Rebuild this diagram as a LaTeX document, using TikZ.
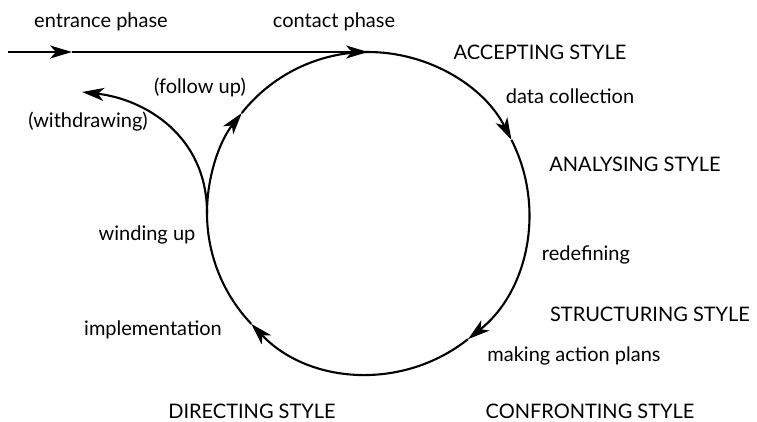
\documentclass[tikz,border=0pt]{standalone}
\usepackage{fontspec}
\setmainfont{Lato}
\usetikzlibrary{calc}
\usetikzlibrary{arrows.meta}

\tikzset{
  phase/.style={inner sep=0pt, font=\fontsize{20}{23}\selectfont},
  path/.style={line width=2.1pt},
  flow/.style={path, -{Stealth[length=22pt,width=13pt,inset=6pt]}},
}

\begin{document}
\begin{tikzpicture}[x=1pt,y=1pt]
\useasboundingbox (0,0) rectangle (757,421);
\coordinate (O) at (368,208);

\coordinate (start) at (8,369);
\coordinate (mid) at (72,369);
\coordinate (top) at ($(O)+(90:161)$);
\coordinate (left) at ($(O)+(180:161)$);
\coordinate (out) at (82,329);

% way in
\draw[flow] (start) -- (mid);
\draw[flow] (mid) -- (top);

% the cycle, clockwise
\draw[flow] (top) arc (90:27:161);
\draw[flow] (O)++(27:161) arc (27:-51.6:161);
\draw[flow] (O)++(-51.6:161) arc (-51.6:-136.5:161);
\draw[path] (O)++(-136.5:161) arc (-136.5:-180:161);
\draw[flow] (left) arc (180:141.6:161);
\draw[path] (O)++(141.6:161) arc (141.6:90:161);

% way out
\draw[flow] (left) .. controls (207,285) and (145,322) .. (out);

% labels
\node[phase] (entrance) at (101,399) {entrance phase};
\node[phase] (contact) at (334,399) {contact phase};
\node[phase] (accepting) at (540,369) {ACCEPTING STYLE};
\node[phase] (data) at (570,325) {data collection};
\node[phase] (analysing) at (635,257) {ANALYSING STYLE};
\node[phase] (redef) at (586,166) {redefining};
\node[phase] (structuring) at (650,107) {STRUCTURING STYLE};
\node[phase] (plans) at (574,65) {making action plans};
\node[phase] (confronting) at (590,10) {CONFRONTING STYLE};
\node[phase] (directing) at (252,10) {DIRECTING STYLE};
\node[phase] (impl) at (153,91) {implementation};
\node[phase] (winding) at (147,186) {winding up};
\node[phase] (withdraw) at (88,299) {(withdrawing)};
\node[phase] (follow) at (200,334) {(follow up)};

\end{tikzpicture}
\end{document}
